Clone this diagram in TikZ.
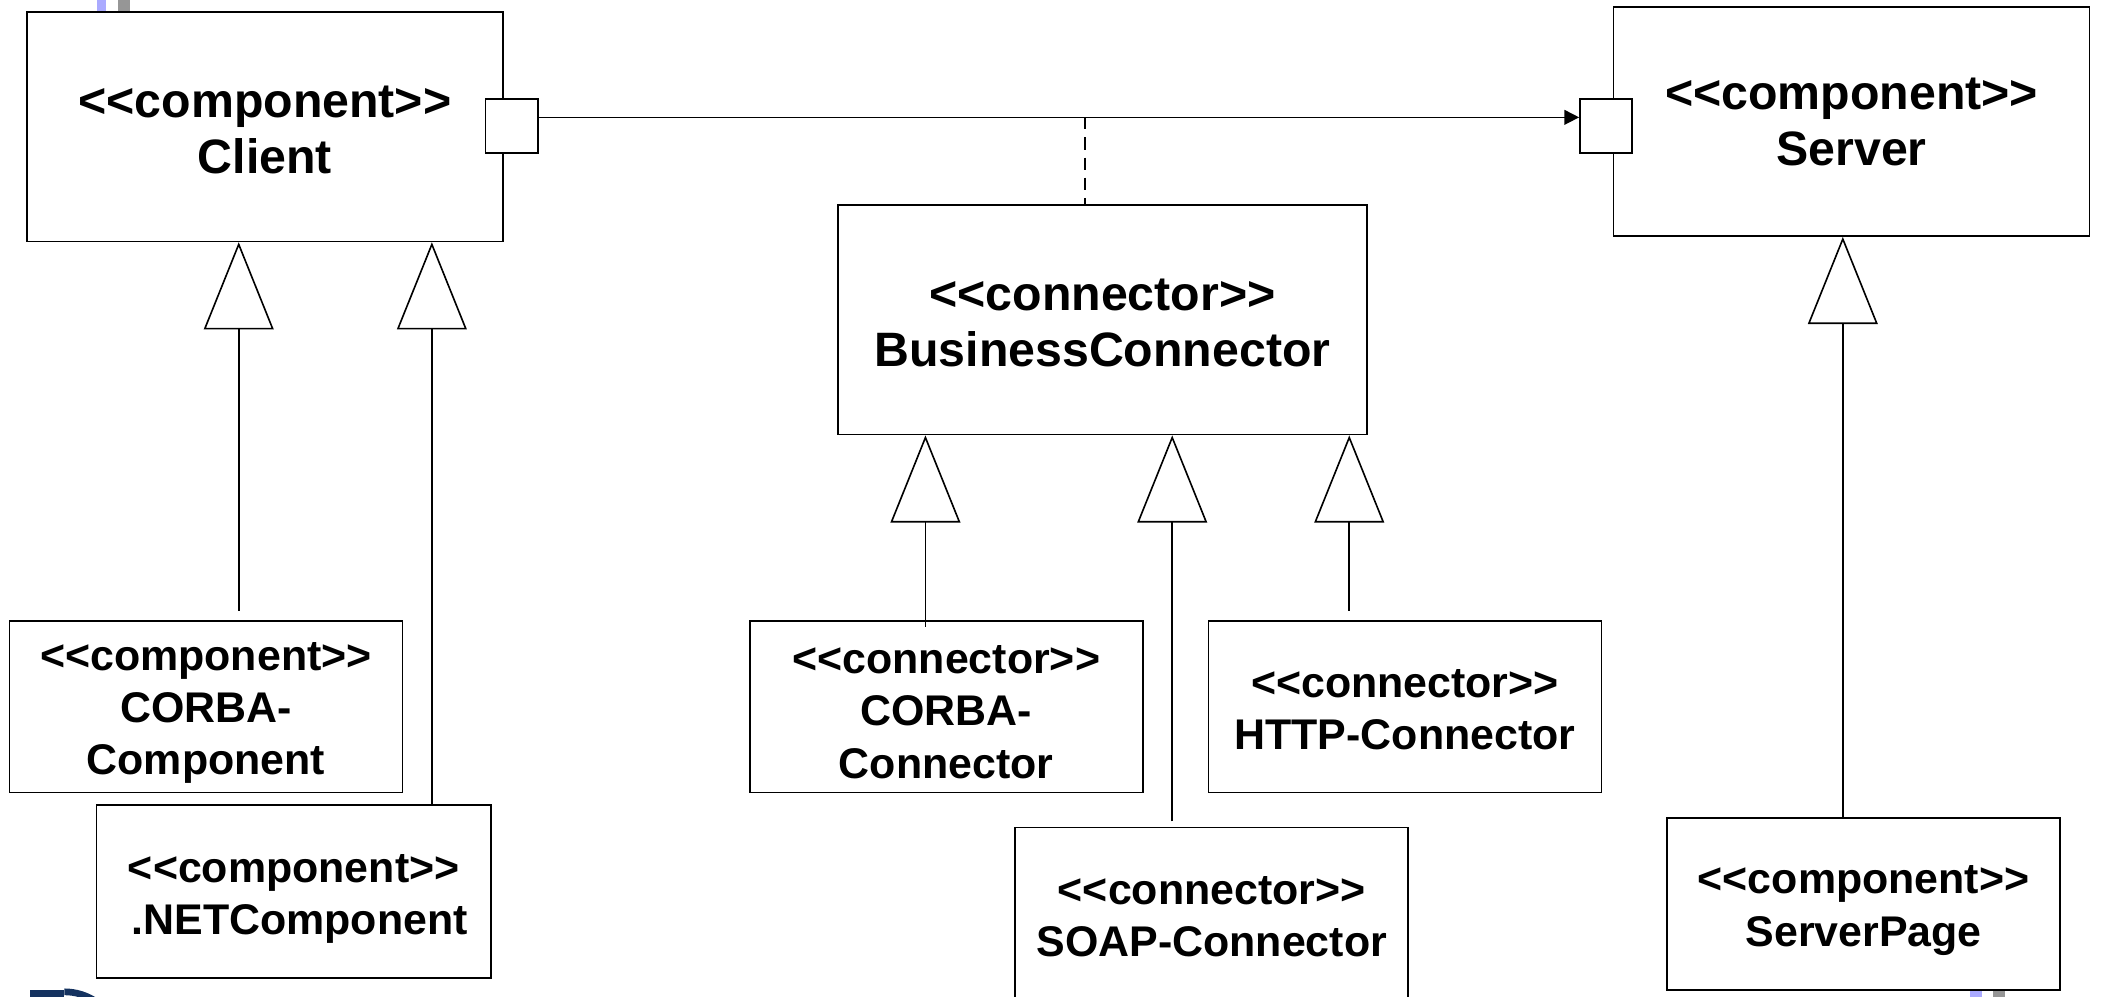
\documentclass[tikz,border=0pt]{standalone}
\usepackage{fontspec}
\setmainfont{Liberation Sans}
\newfontfamily\umlfont{Liberation Sans}
\usetikzlibrary{arrows.meta,calc}
\definecolor{barblue}{RGB}{170,170,255}
\definecolor{bargray}{RGB}{150,150,150}
\definecolor{logonavy}{RGB}{20,50,95}
\begin{document}
\begin{tikzpicture}[x=0.5pt,y=-0.5pt,
  box/.style={draw, line width=0.6pt, inner sep=0pt},
  big/.style={align=center, inner sep=0pt, font=\umlfont\bfseries\fontsize{18}{21}\selectfont},
  small/.style={align=center, inner sep=0pt, font=\umlfont\bfseries\fontsize{16}{19.5}\selectfont},
  bigbox/.style={box, minimum width=177.5pt, minimum height=85.5pt},
  smallbox/.style={box, minimum width=146.5pt, minimum height=64pt},
  port/.style={draw, line width=0.6pt, fill=white, minimum width=19.5pt, minimum height=20pt, inner sep=0pt},
  gen/.style={line width=0.6pt, -{Triangle[open, length=32.5pt, width=26pt]}},
  assoc/.style={line width=0.6pt, -{Triangle[length=5.5pt, width=5.5pt]}},
  dep/.style={line width=0.6pt, dash pattern=on 4.5pt off 3pt}
  ]
\useasboundingbox (0,0) rectangle (1568,743);
% slide artefacts
\fill[barblue] (72,0) rectangle (79,9);
\fill[bargray] (88,0) rectangle (97,9);
\fill[barblue] (1469,738) rectangle (1478,743);
\fill[bargray] (1486,738) rectangle (1495,743);
\fill[logonavy] (22,738) rectangle (48,745);
\draw[logonavy, line width=2.5pt] (48,739.5) arc[start angle=-90, end angle=-55, radius=42];

% boxes
\node[bigbox] (client) at (197.5,94.5) {};
\node[bigbox] (server) at (1380.5,90.5) {};
\node[bigbox, minimum width=197pt] (bc) at (822,238.5) {};
\node[smallbox] (ccomp) at (153.5,527) {};
\node[smallbox, minimum width=147pt, minimum height=64.5pt] (netc) at (219,664.5) {};
\node[smallbox] (ccon) at (705.5,527) {};
\node[smallbox] (http) at (1047.5,527) {};
\node[smallbox] (soap) at (903.5,681) {};
\node[smallbox] (spage) at (1389.5,674) {};

% texts
\node[big] (client-t) at ($(client)+(0,2.5)$) {<<component>>\\Client};
\node[big] (server-t) at ($(server)+(0,0.5)$) {<<component>>\\Server};
\node[big] (bc-t) at ($(bc)+(0,2.5)$) {<<connector>>\\BusinessConnector};
\node[small] (ccomp-t) at ($(ccomp)+(0,4.5)$) {<<component>>\\CORBA-\\Component};
\node[small] (netc-t) at ($(netc)+(0,6)$) {<<component>>\\\hspace*{0.278em}.NETComponent};
\node[small] (ccon-t) at ($(ccon)+(0,4)$) {<<connector>>\\CORBA-\\Connector};
\node[small] (http-t) at ($(http)+(0,2)$) {<<connector>>\\HTTP-Connector};
\node[small] (soap-t) at ($(soap)+(0,2.5)$) {<<connector>>\\SOAP-Connector};
\node[small] (spage-t) at ($(spage)+(0,5)$) {<<component>>\\ServerPage};

% ports
\node[port] (cport) at (381.5,94) {};
\node[port] (sport) at (1197.5,94) {};

% association and dependency
\draw[assoc] ([yshift=3.25pt]cport.east) -- ([yshift=3.25pt]sport.west);
\coordinate (dj) at (809,87.5);
\draw[dep] (dj) -- (dj |- bc.north);

% generalizations
\coordinate (g1) at ($(client.south)+(-19.5,0)$);
\coordinate (g2) at ($(client.south)+(124.5,0)$);
\coordinate (g3) at ($(bc.south)+(-132,0)$);
\coordinate (g4) at ($(bc.south)+(52,0)$);
\coordinate (g5) at ($(bc.south)+(184,0)$);
\coordinate (g6) at ($(server.south)+(-6.5,0)$);
\path (g1 |- ccomp.north) coordinate (c1);
\path (g2 |- netc.north) coordinate (c2);
\path (g3 |- ccon.north) coordinate (c3);
\path (g4 |- soap.north) coordinate (c4);
\path (g5 |- http.north) coordinate (c5);
\path (g6 |- spage.north) coordinate (c6);
\draw[gen] ([yshift=3.5pt]c1) -- (g1);
\draw[gen] (c2) -- (g2);
\draw[gen] ([yshift=-2.5pt]c3) -- (g3);
\draw[gen] ([yshift=2pt]c4) -- (g4);
\draw[gen] ([yshift=3.5pt]c5) -- (g5);
\draw[gen] (c6) -- (g6);
\end{tikzpicture}
\end{document}
